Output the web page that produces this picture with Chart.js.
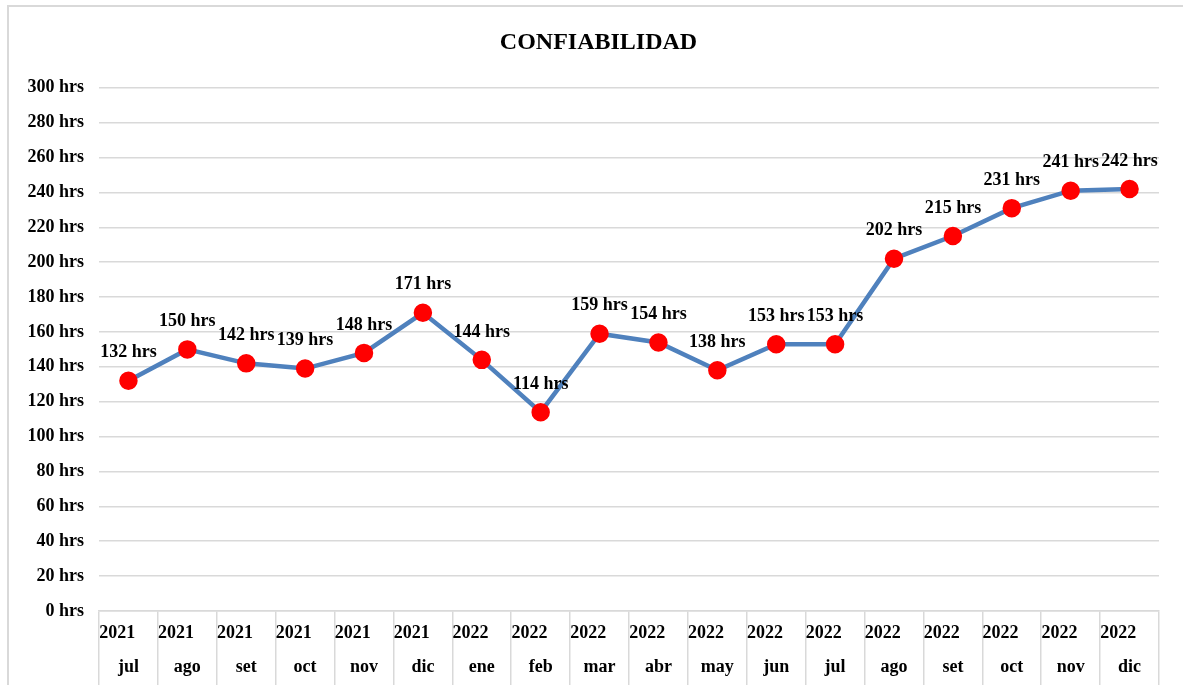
<!DOCTYPE html>
<html lang="es">
<head>
<meta charset="UTF-8">
<title>Confiabilidad</title>
<script src="https://cdn.jsdelivr.net/npm/chart.js"></script>
<style>
    body { margin: 0; background: #fff; }
    .wrap { position: relative; width: 1183px; height: 685px; }
    .marco { position: absolute; left: 7px; top: 5px; right: 0; bottom: 0;
             border-left: 2px solid #d9d9d9; border-top: 2px solid #d9d9d9; pointer-events: none; }
    canvas { position: absolute; left: 0; top: 0; }
</style>
</head>
<body>
<div class="wrap">
    <canvas id="grafico" width="1183" height="685"></canvas>
    <div class="marco"></div>
</div>
<script>
    // datos
    const anios = ["2021","2021","2021","2021","2021","2021","2022","2022","2022","2022","2022","2022","2022","2022","2022","2022","2022","2022"];
    const meses = ["jul","ago","set","oct","nov","dic","ene","feb","mar","abr","may","jun","jul","ago","set","oct","nov","dic"];
    const horas = [132, 150, 142, 139, 148, 171, 144, 114, 159, 154, 138, 153, 153, 202, 215, 231, 241, 242];
    const yTicks = [0, 20, 40, 60, 80, 100, 120, 140, 160, 180, 200, 220, 240, 260, 280, 300];

    const fuente = "'Liberation Serif', 'Times New Roman', serif";

    // etiqueta con el año a la izquierda (espacios al final) y el mes centrado
    const etiquetas = anios.map((a, i) => [a + "     ", meses[i]]);

    // etiquetas de datos encima de cada punto
    const etiquetasDatos = {
        id: 'etiquetasDatos',
        afterDatasetsDraw(chart) {
            const ctx = chart.ctx;
            const meta = chart.getDatasetMeta(0);
            ctx.save();
            ctx.font = "bold 18px " + fuente;
            ctx.fillStyle = "#000";
            ctx.textAlign = "center";
            ctx.textBaseline = "middle";
            meta.data.forEach((p, i) => {
                ctx.fillText(horas[i] + " hrs", p.x, p.y - 28);
            });
            ctx.restore();
        }
    };

    new Chart(document.getElementById("grafico"), {
        type: "line",
        data: {
            labels: etiquetas,
            datasets: [{
                data: horas,
                borderColor: "#4F81BD",
                borderWidth: 4.5,
                pointBackgroundColor: "#FF0000",
                pointBorderColor: "#FF0000",
                pointRadius: 7,
                tension: 0,
                fill: false
            }]
        },
        options: {
            responsive: false,
            animation: false,
            layout: { padding: { left: 20, right: 24, top: 0, bottom: 0 } },
            plugins: {
                legend: { display: false },
                tooltip: { enabled: false },
                title: {
                    display: true,
                    text: "\u00a0\u00a0\u00a0CONFIABILIDAD",
                    color: "#000",
                    font: { family: fuente, size: 24, weight: "bold" },
                    padding: { top: 28, bottom: 31 }
                }
            },
            scales: {
                y: {
                    min: 0,
                    max: 300,
                    afterBuildTicks: (s) => { s.ticks = yTicks.map(v => ({ value: v })); },
                    afterFit: (s) => { s.width = 79; },
                    grid: { color: "#d9d9d9", lineWidth: 1.5, drawTicks: false },
                    border: { display: false },
                    ticks: {
                        color: "#000",
                        padding: 15,
                        font: { family: fuente, size: 18, weight: "bold" },
                        callback: (v) => v + " hrs"
                    }
                },
                x: {
                    offset: true,
                    afterFit: (s) => { s.height = 74; },
                    grid: {
                        offset: true,
                        drawOnChartArea: false,
                        drawTicks: true,
                        tickLength: 76,
                        color: "#d9d9d9",
                        lineWidth: 1.5
                    },
                    border: { color: "#d9d9d9", width: 1.5 },
                    ticks: {
                        color: "#000",
                        autoSkip: false,
                        maxRotation: 0,
                        padding: -71,
                        font: { family: fuente, size: 18, weight: "bold", lineHeight: 1.9 }
                    }
                }
            }
        },
        plugins: [etiquetasDatos]
    });
</script>
</body>
</html>
